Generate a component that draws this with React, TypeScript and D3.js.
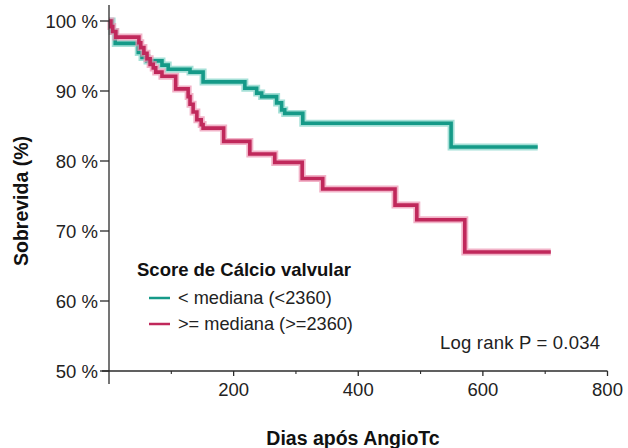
import React from "react";
import * as d3 from "d3";

const tealDays = [0, 5, 10, 47, 53, 61, 85, 95, 130, 151, 218, 237, 245, 269, 277, 282, 311, 549, 688];
const tealSurv = [100, 98.5, 96.8, 95.5, 94.8, 94.3, 93.7, 93.1, 92.7, 91.3, 90.4, 89.7, 89.2, 88.3, 87.3, 86.8, 85.4, 82.0, 82.0];

const redDays = [0, 3, 6, 11, 48, 51, 56, 61, 66, 71, 75, 85, 107, 127, 130, 135, 141, 148, 151, 184, 226, 266, 310, 343, 459, 494, 571, 709];
const redSurv = [100, 99.2, 98.5, 97.7, 96.9, 96.2, 95.4, 94.6, 93.8, 93.3, 92.7, 92.1, 90.3, 89.2, 88.1, 87.0, 85.9, 85.2, 84.7, 82.8, 81.0, 79.8, 77.5, 76.0, 73.7, 71.6, 67.0, 67.0];

const yTicks = [50, 60, 70, 80, 90, 100];
const xMajorTicks = [200, 400, 600, 800];
const xMinorTicks = [100, 300, 500, 700];

const seriesNames = ["< mediana (<2360)", ">= mediana (>=2360)"];
const legendTitle = "Score de Cálcio valvular";
const pText = "Log rank P = 0.034";

const FONT = "'Liberation Sans', Arial, Helvetica, sans-serif";

export default function App() {
  const x = d3.scaleLinear().domain([0, 800]).range([109, 607.5]);
  const y = d3.scaleLinear().domain([50, 100]).range([371, 21]);
  const line = d3
    .line<[number, number]>()
    .x((d) => x(d[0]))
    .y((d) => y(d[1]))
    .curve(d3.curveStepAfter);

  const teal = tealDays.map((d, i) => [d, tealSurv[i]] as [number, number]);
  const red = redDays.map((d, i) => [d, redSurv[i]] as [number, number]);

  const series = [
    { data: teal, color: "#159a88", halo: "#7fd3c6" },
    { data: red, color: "#c0285b", halo: "#ec93b1" },
  ];

  const axisColor = "#2b2b2b";

  return (
    <svg
      width={628}
      height={448}
      style={{ position: "absolute", left: 0, top: 0, background: "#fff" }}
      fontFamily={FONT}
    >
      <rect x={0} y={0} width={628} height={448} fill="#fff" />
      {series.map((s, i) => (
        <g key={i}>
          <path d={line(s.data) || ""} fill="none" stroke={s.halo} strokeWidth={7} strokeLinejoin="miter" opacity={0.7} />
          <path d={line(s.data) || ""} fill="none" stroke={s.color} strokeWidth={3.6} strokeLinejoin="miter" />
        </g>
      ))}
      <line x1={109} x2={109} y1={5} y2={384} stroke={axisColor} strokeWidth={1.3} />
      <line x1={102} x2={x(800)} y1={371} y2={371} stroke={axisColor} strokeWidth={1.3} />
      {yTicks.map((t) => (
        <g key={t}>
          <line x1={100} x2={109} y1={y(t)} y2={y(t)} stroke={axisColor} strokeWidth={1.3} />
          <text x={98} y={y(t)} dy="0.36em" textAnchor="end" fontSize={18.5} fill="#222">
            {t} %
          </text>
        </g>
      ))}
      {xMajorTicks.map((t) => (
        <g key={t}>
          <line x1={x(t)} x2={x(t)} y1={371} y2={376} stroke={axisColor} strokeWidth={1.3} />
          <text x={x(t)} y={396} textAnchor="middle" fontSize={18.5} fill="#222">
            {t}
          </text>
        </g>
      ))}
      {xMinorTicks.map((t) => (
        <line key={t} x1={x(t)} x2={x(t)} y1={371} y2={374} stroke={axisColor} strokeWidth={1.1} />
      ))}
      <text x={353} y={445} textAnchor="middle" fontSize={19.5} fontWeight="bold" fill="#111">
        Dias após AngioTc
      </text>
      <text transform="translate(28,201) rotate(-90)" textAnchor="middle" fontSize={19.5} fontWeight="bold" fill="#111">
        Sobrevida (%)
      </text>
      <text x={137} y={276} fontSize={18.5} fontWeight="bold" fill="#111">
        {legendTitle}
      </text>
      {series.map((s, i) => (
        <g key={i}>
          <line x1={149} x2={170} y1={298 + i * 26} y2={298 + i * 26} stroke={s.color} strokeWidth={2.5} />
          <text x={178} y={304 + i * 26} fontSize={18.2} fill="#222">
            {seriesNames[i]}
          </text>
        </g>
      ))}
      <text x={440} y={349} fontSize={18.5} letterSpacing={0.2} fill="#222">
        {pText}
      </text>
    </svg>
  );
}
